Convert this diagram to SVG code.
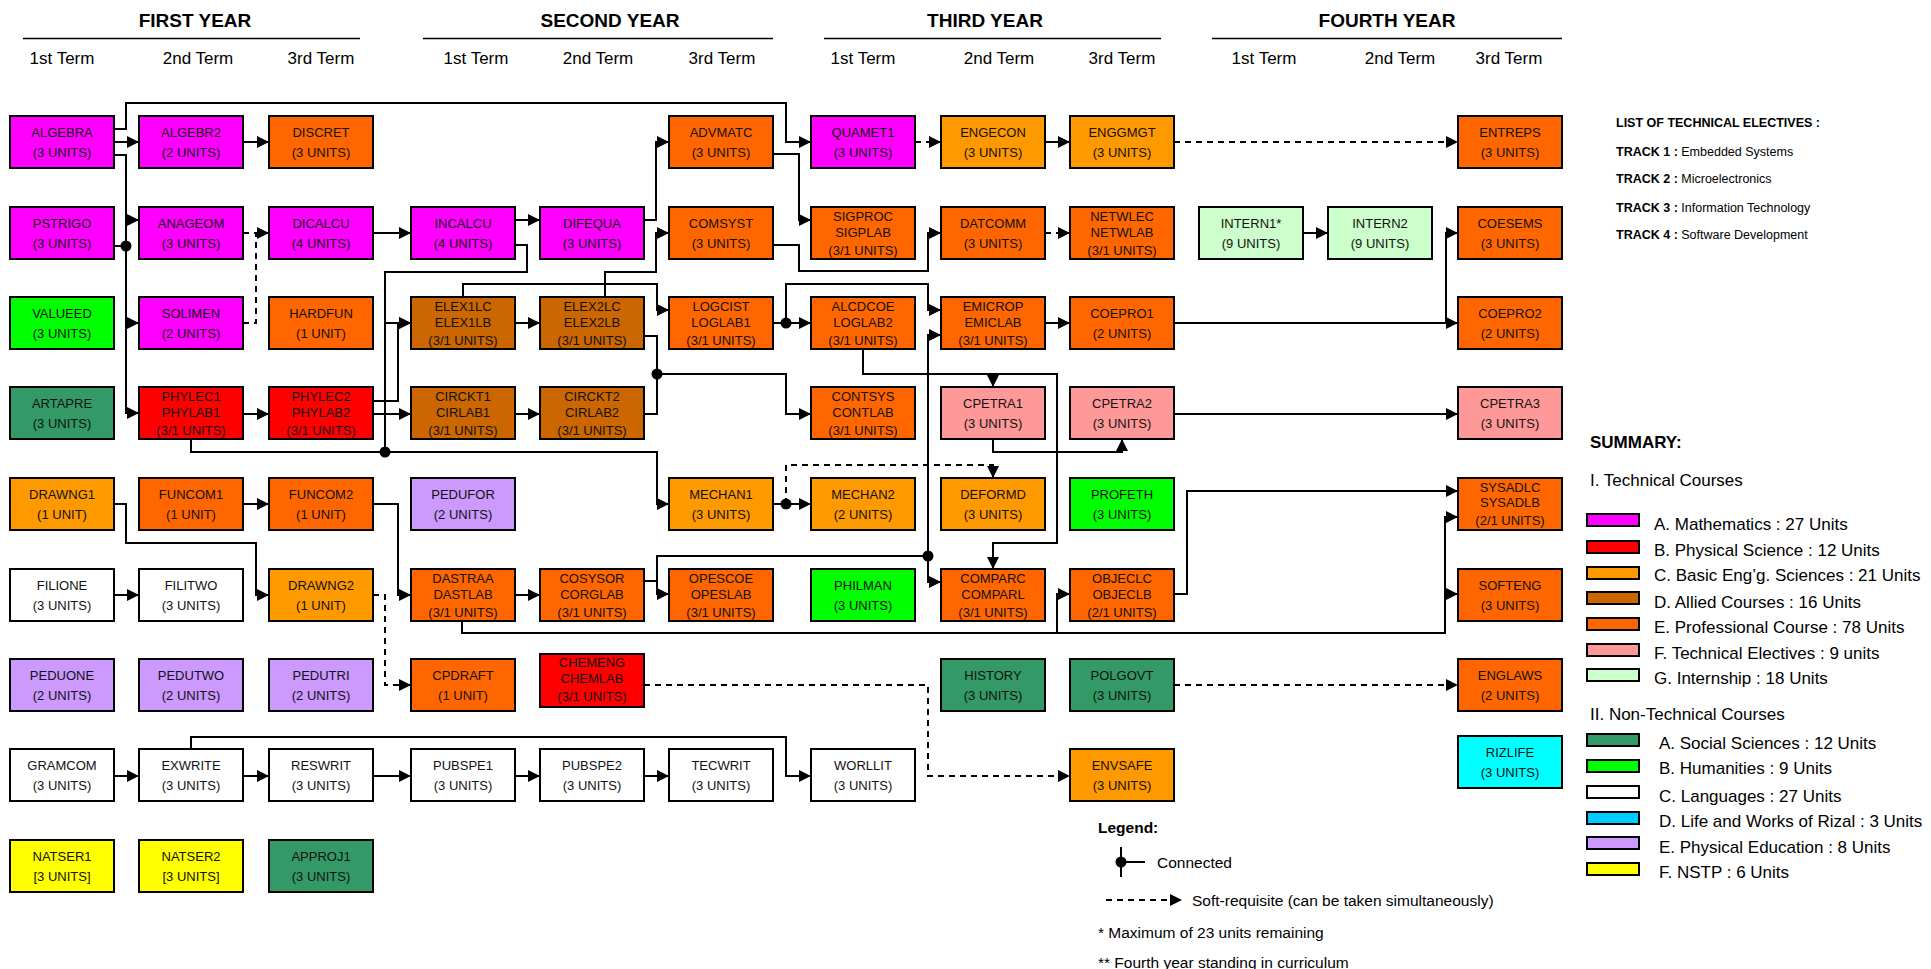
<svg xmlns="http://www.w3.org/2000/svg" width="1931" height="969" viewBox="0 0 1931 969">
<style>
.n rect{stroke:#000;stroke-width:2}
.n text,.tx{font-family:"Liberation Sans",Arial,sans-serif;font-size:13px;text-anchor:middle;fill:#111}
.hd{font-family:"Liberation Sans",Arial,sans-serif;font-size:19px;font-weight:bold;text-anchor:middle}
.tm{font-family:"Liberation Sans",Arial,sans-serif;font-size:17px;text-anchor:middle}
.c path{fill:none;stroke:#000;stroke-width:2}
.c .d{stroke-dasharray:6 5}
.c .a{marker-end:url(#ar)}
.c circle{fill:#000}
.lg{font-family:"Liberation Sans",Arial,sans-serif;font-size:17px;white-space:pre}
.lt{font-size:15.5px}
.sm{font-family:"Liberation Sans",Arial,sans-serif;font-size:12.5px}
.b{font-weight:bold}
.sw{stroke:#000;stroke-width:2}
.M{fill:#FF00FF}.PS{fill:#FF0000}.BE{fill:#FF9900}.AL{fill:#CC6600}.PR{fill:#FF6600}.TE{fill:#FF9999}.IN{fill:#CCFFCC}.SS{fill:#339966}.HU{fill:#00FF00}.LA{fill:#FFFFFF}.RZ{fill:#00FFFF}.RZL{fill:#00CCFF}.PE{fill:#CC99FF}.NS{fill:#FFFF00}
</style>
<defs>
<marker id="ar" markerUnits="userSpaceOnUse" markerWidth="12" markerHeight="12" viewBox="0 0 12 12" refX="12" refY="6" orient="auto"><path d="M0,0 L12,6 L0,12 z" fill="#000"/></marker>
</defs>
<rect width="1931" height="969" fill="#fff"/>
<g id="headers">
<text class="hd" x="195" y="27">FIRST YEAR</text>
<text class="hd" x="610" y="27">SECOND YEAR</text>
<text class="hd" x="985" y="27">THIRD YEAR</text>
<text class="hd" x="1387" y="27">FOURTH YEAR</text>
<g stroke="#000" stroke-width="1.5"><line x1="23" y1="38.5" x2="360" y2="38.5"/><line x1="423" y1="38.5" x2="773" y2="38.5"/><line x1="824" y1="38.5" x2="1161" y2="38.5"/><line x1="1212" y1="38.5" x2="1562" y2="38.5"/></g>
<text class="tm" x="62" y="64">1st Term</text><text class="tm" x="198" y="64">2nd Term</text><text class="tm" x="321" y="64">3rd Term</text>
<text class="tm" x="476" y="64">1st Term</text><text class="tm" x="598" y="64">2nd Term</text><text class="tm" x="722" y="64">3rd Term</text>
<text class="tm" x="863" y="64">1st Term</text><text class="tm" x="999" y="64">2nd Term</text><text class="tm" x="1122" y="64">3rd Term</text>
<text class="tm" x="1264" y="64">1st Term</text><text class="tm" x="1400" y="64">2nd Term</text><text class="tm" x="1509" y="64">3rd Term</text>
</g>
<g id="connectors" class="c">
<path class="a" d="M114,129 H126 V103 H786 V142 H811"/>
<path class="a" d="M114,142 H139"/>
<path class="a" d="M114,155 H126 V413 H139"/>
<path class="a" d="M126,220 H139"/>
<path class="a" d="M126,323 H139"/>
<path d="M114,246 H126"/>
<circle cx="126" cy="246" r="5.5"/>
<path class="a" d="M243,142 H269"/>
<path class="a d" d="M243,233 H269"/>
<path class="d" d="M243,323 H256 V233"/>
<path class="a" d="M373,233 H411"/>
<path class="a" d="M515,220 H540"/>
<path d="M515,245 H527 V272 H385 V452"/>
<path class="a" d="M385,323 H411"/>
<path class="a" d="M373,401 H398 V323 H411"/>
<path class="a" d="M373,414 H411"/>
<path class="a" d="M243,414 H269"/>
<path class="a" d="M191,439 V452 H657 V504 H669"/>
<circle cx="385" cy="452" r="5.5"/>
<path class="a" d="M515,323 H540"/>
<path class="a" d="M515,414 H540"/>
<path class="a" d="M644,220 H656 V142 H669"/>
<path class="a" d="M605,297 V272 H656 V233 H669"/>
<path class="a" d="M463,297 V284 H657 V310 H669"/>
<path d="M644,336 H657 V414 H644"/>
<circle cx="657" cy="374" r="5.5"/>
<path class="a" d="M657,374 H786 V414 H811"/>
<path class="a" d="M773,323 H811"/>
<circle cx="786" cy="323" r="5.5"/>
<path class="a" d="M786,323 V284 H928 V310 H941"/>
<path class="a" d="M773,154 H799 V220 H811"/>
<path class="a" d="M773,245 H799 V271 H928 V233 H941"/>
<path class="a d" d="M915,142 H941"/>
<path class="a" d="M1045,142 H1070"/>
<path class="a d" d="M1174,142 H1458"/>
<path class="a d" d="M1045,233 H1070"/>
<path class="a" d="M1303,233 H1328"/>
<path class="a" d="M1045,323 H1070"/>
<path class="a" d="M1174,323 H1458"/>
<path class="a" d="M1446,323 V233 H1458"/>
<path class="a" d="M863,349 V374 H993 V387"/>
<path class="a" d="M993,374 H1057 V543 H993 V569"/>
<path class="a" d="M993,439 V452 H1122 V439"/>
<path class="a" d="M1174,414 H1458"/>
<path class="a" d="M773,504 H811"/>
<circle cx="786" cy="504" r="5.5"/>
<path class="a d" d="M786,504 V465 H993 V478"/>
<path class="a" d="M243,504 H269"/>
<path class="a" d="M373,504 H398 V595 H411"/>
<path class="a" d="M114,504 H126 V543 H256 V595 H269"/>
<path class="a" d="M114,595 H139"/>
<path class="a d" d="M373,595 H385 V685 H411"/>
<path class="a" d="M515,595 H540"/>
<path class="a" d="M644,581 H657 V594 H669"/>
<path d="M657,581 V556 H928"/>
<circle cx="928" cy="556" r="5.5"/>
<path class="a" d="M928,556 V335 H941"/>
<path class="a" d="M928,556 V582 H941"/>
<path class="a" d="M1174,594 H1187 V491 H1458"/>
<path class="a" d="M462,621 V633 H1445 V517 H1458"/>
<path class="a" d="M1445,594 H1458"/>
<path class="a" d="M1057,633 V594 H1070"/>
<path class="a d" d="M644,685 H928 V776 H1070"/>
<path class="a d" d="M1174,685 H1458"/>
<path class="a" d="M114,776 H139"/>
<path class="a" d="M243,776 H269"/>
<path class="a" d="M373,776 H411"/>
<path class="a" d="M515,776 H540"/>
<path class="a" d="M644,776 H669"/>
<path class="a" d="M191,749 V737 H786 V776 H811"/>
</g>
<g id="ALGEBRA" class="n"><rect class="M" x="10" y="116" width="104" height="52"/><text x="62" y="137">ALGEBRA</text><text x="62" y="157">(3 UNITS)</text></g>
<g id="ALGEBR2" class="n"><rect class="M" x="139" y="116" width="104" height="52"/><text x="191" y="137">ALGEBR2</text><text x="191" y="157">(2 UNITS)</text></g>
<g id="DISCRET" class="n"><rect class="PR" x="269" y="116" width="104" height="52"/><text x="321" y="137">DISCRET</text><text x="321" y="157">(3 UNITS)</text></g>
<g id="ADVMATC" class="n"><rect class="PR" x="669" y="116" width="104" height="52"/><text x="721" y="137">ADVMATC</text><text x="721" y="157">(3 UNITS)</text></g>
<g id="QUAMET1" class="n"><rect class="M" x="811" y="116" width="104" height="52"/><text x="863" y="137">QUAMET1</text><text x="863" y="157">(3 UNITS)</text></g>
<g id="ENGECON" class="n"><rect class="BE" x="941" y="116" width="104" height="52"/><text x="993" y="137">ENGECON</text><text x="993" y="157">(3 UNITS)</text></g>
<g id="ENGGMGT" class="n"><rect class="BE" x="1070" y="116" width="104" height="52"/><text x="1122" y="137">ENGGMGT</text><text x="1122" y="157">(3 UNITS)</text></g>
<g id="ENTREPS" class="n"><rect class="PR" x="1458" y="116" width="104" height="52"/><text x="1510" y="137">ENTREPS</text><text x="1510" y="157">(3 UNITS)</text></g>
<g id="PSTRIGO" class="n"><rect class="M" x="10" y="207" width="104" height="52"/><text x="62" y="228">PSTRIGO</text><text x="62" y="248">(3 UNITS)</text></g>
<g id="ANAGEOM" class="n"><rect class="M" x="139" y="207" width="104" height="52"/><text x="191" y="228">ANAGEOM</text><text x="191" y="248">(3 UNITS)</text></g>
<g id="DICALCU" class="n"><rect class="M" x="269" y="207" width="104" height="52"/><text x="321" y="228">DICALCU</text><text x="321" y="248">(4 UNITS)</text></g>
<g id="INCALCU" class="n"><rect class="M" x="411" y="207" width="104" height="52"/><text x="463" y="228">INCALCU</text><text x="463" y="248">(4 UNITS)</text></g>
<g id="DIFEQUA" class="n"><rect class="M" x="540" y="207" width="104" height="52"/><text x="592" y="228">DIFEQUA</text><text x="592" y="248">(3 UNITS)</text></g>
<g id="COMSYST" class="n"><rect class="PR" x="669" y="207" width="104" height="52"/><text x="721" y="228">COMSYST</text><text x="721" y="248">(3 UNITS)</text></g>
<g id="SIGPROC" class="n"><rect class="PR" x="811" y="207" width="104" height="52"/><text x="863" y="221">SIGPROC</text><text x="863" y="237">SIGPLAB</text><text x="863" y="255">(3/1 UNITS)</text></g>
<g id="DATCOMM" class="n"><rect class="PR" x="941" y="207" width="104" height="52"/><text x="993" y="228">DATCOMM</text><text x="993" y="248">(3 UNITS)</text></g>
<g id="NETWLEC" class="n"><rect class="PR" x="1070" y="207" width="104" height="52"/><text x="1122" y="221">NETWLEC</text><text x="1122" y="237">NETWLAB</text><text x="1122" y="255">(3/1 UNITS)</text></g>
<g id="INTERN1" class="n"><rect class="IN" x="1199" y="207" width="104" height="52"/><text x="1251" y="228">INTERN1*</text><text x="1251" y="248">(9 UNITS)</text></g>
<g id="INTERN2" class="n"><rect class="IN" x="1328" y="207" width="104" height="52"/><text x="1380" y="228">INTERN2</text><text x="1380" y="248">(9 UNITS)</text></g>
<g id="COESEMS" class="n"><rect class="PR" x="1458" y="207" width="104" height="52"/><text x="1510" y="228">COESEMS</text><text x="1510" y="248">(3 UNITS)</text></g>
<g id="VALUEED" class="n"><rect class="HU" x="10" y="297" width="104" height="52"/><text x="62" y="318">VALUEED</text><text x="62" y="338">(3 UNITS)</text></g>
<g id="SOLIMEN" class="n"><rect class="M" x="139" y="297" width="104" height="52"/><text x="191" y="318">SOLIMEN</text><text x="191" y="338">(2 UNITS)</text></g>
<g id="HARDFUN" class="n"><rect class="PR" x="269" y="297" width="104" height="52"/><text x="321" y="318">HARDFUN</text><text x="321" y="338">(1 UNIT)</text></g>
<g id="ELEX1LC" class="n"><rect class="AL" x="411" y="297" width="104" height="52"/><text x="463" y="311">ELEX1LC</text><text x="463" y="327">ELEX1LB</text><text x="463" y="345">(3/1 UNITS)</text></g>
<g id="ELEX2LC" class="n"><rect class="AL" x="540" y="297" width="104" height="52"/><text x="592" y="311">ELEX2LC</text><text x="592" y="327">ELEX2LB</text><text x="592" y="345">(3/1 UNITS)</text></g>
<g id="LOGCIST" class="n"><rect class="PR" x="669" y="297" width="104" height="52"/><text x="721" y="311">LOGCIST</text><text x="721" y="327">LOGLAB1</text><text x="721" y="345">(3/1 UNITS)</text></g>
<g id="ALCDCOE" class="n"><rect class="PR" x="811" y="297" width="104" height="52"/><text x="863" y="311">ALCDCOE</text><text x="863" y="327">LOGLAB2</text><text x="863" y="345">(3/1 UNITS)</text></g>
<g id="EMICROP" class="n"><rect class="PR" x="941" y="297" width="104" height="52"/><text x="993" y="311">EMICROP</text><text x="993" y="327">EMICLAB</text><text x="993" y="345">(3/1 UNITS)</text></g>
<g id="COEPRO1" class="n"><rect class="PR" x="1070" y="297" width="104" height="52"/><text x="1122" y="318">COEPRO1</text><text x="1122" y="338">(2 UNITS)</text></g>
<g id="COEPRO2" class="n"><rect class="PR" x="1458" y="297" width="104" height="52"/><text x="1510" y="318">COEPRO2</text><text x="1510" y="338">(2 UNITS)</text></g>
<g id="ARTAPRE" class="n"><rect class="SS" x="10" y="387" width="104" height="52"/><text x="62" y="408">ARTAPRE</text><text x="62" y="428">(3 UNITS)</text></g>
<g id="PHYLEC1" class="n"><rect class="PS" x="139" y="387" width="104" height="52"/><text x="191" y="401">PHYLEC1</text><text x="191" y="417">PHYLAB1</text><text x="191" y="435">(3/1 UNITS)</text></g>
<g id="PHYLEC2" class="n"><rect class="PS" x="269" y="387" width="104" height="52"/><text x="321" y="401">PHYLEC2</text><text x="321" y="417">PHYLAB2</text><text x="321" y="435">(3/1 UNITS)</text></g>
<g id="CIRCKT1" class="n"><rect class="AL" x="411" y="387" width="104" height="52"/><text x="463" y="401">CIRCKT1</text><text x="463" y="417">CIRLAB1</text><text x="463" y="435">(3/1 UNITS)</text></g>
<g id="CIRCKT2" class="n"><rect class="AL" x="540" y="387" width="104" height="52"/><text x="592" y="401">CIRCKT2</text><text x="592" y="417">CIRLAB2</text><text x="592" y="435">(3/1 UNITS)</text></g>
<g id="CONTSYS" class="n"><rect class="PR" x="811" y="387" width="104" height="52"/><text x="863" y="401">CONTSYS</text><text x="863" y="417">CONTLAB</text><text x="863" y="435">(3/1 UNITS)</text></g>
<g id="CPETRA1" class="n"><rect class="TE" x="941" y="387" width="104" height="52"/><text x="993" y="408">CPETRA1</text><text x="993" y="428">(3 UNITS)</text></g>
<g id="CPETRA2" class="n"><rect class="TE" x="1070" y="387" width="104" height="52"/><text x="1122" y="408">CPETRA2</text><text x="1122" y="428">(3 UNITS)</text></g>
<g id="CPETRA3" class="n"><rect class="TE" x="1458" y="387" width="104" height="52"/><text x="1510" y="408">CPETRA3</text><text x="1510" y="428">(3 UNITS)</text></g>
<g id="DRAWNG1" class="n"><rect class="BE" x="10" y="478" width="104" height="52"/><text x="62" y="499">DRAWNG1</text><text x="62" y="519">(1 UNIT)</text></g>
<g id="FUNCOM1" class="n"><rect class="PR" x="139" y="478" width="104" height="52"/><text x="191" y="499">FUNCOM1</text><text x="191" y="519">(1 UNIT)</text></g>
<g id="FUNCOM2" class="n"><rect class="PR" x="269" y="478" width="104" height="52"/><text x="321" y="499">FUNCOM2</text><text x="321" y="519">(1 UNIT)</text></g>
<g id="PEDUFOR" class="n"><rect class="PE" x="411" y="478" width="104" height="52"/><text x="463" y="499">PEDUFOR</text><text x="463" y="519">(2 UNITS)</text></g>
<g id="MECHAN1" class="n"><rect class="BE" x="669" y="478" width="104" height="52"/><text x="721" y="499">MECHAN1</text><text x="721" y="519">(3 UNITS)</text></g>
<g id="MECHAN2" class="n"><rect class="BE" x="811" y="478" width="104" height="52"/><text x="863" y="499">MECHAN2</text><text x="863" y="519">(2 UNITS)</text></g>
<g id="DEFORMD" class="n"><rect class="BE" x="941" y="478" width="104" height="52"/><text x="993" y="499">DEFORMD</text><text x="993" y="519">(3 UNITS)</text></g>
<g id="PROFETH" class="n"><rect class="HU" x="1070" y="478" width="104" height="52"/><text x="1122" y="499">PROFETH</text><text x="1122" y="519">(3 UNITS)</text></g>
<g id="SYSADLC" class="n"><rect class="PR" x="1458" y="478" width="104" height="52"/><text x="1510" y="492">SYSADLC</text><text x="1510" y="507">SYSADLB</text><text x="1510" y="525">(2/1 UNITS)</text></g>
<g id="FILIONE" class="n"><rect class="LA" x="10" y="569" width="104" height="52"/><text x="62" y="590">FILIONE</text><text x="62" y="610">(3 UNITS)</text></g>
<g id="FILITWO" class="n"><rect class="LA" x="139" y="569" width="104" height="52"/><text x="191" y="590">FILITWO</text><text x="191" y="610">(3 UNITS)</text></g>
<g id="DRAWNG2" class="n"><rect class="BE" x="269" y="569" width="104" height="52"/><text x="321" y="590">DRAWNG2</text><text x="321" y="610">(1 UNIT)</text></g>
<g id="DASTRAA" class="n"><rect class="PR" x="411" y="569" width="104" height="52"/><text x="463" y="583">DASTRAA</text><text x="463" y="599">DASTLAB</text><text x="463" y="617">(3/1 UNITS)</text></g>
<g id="COSYSOR" class="n"><rect class="PR" x="540" y="569" width="104" height="52"/><text x="592" y="583">COSYSOR</text><text x="592" y="599">CORGLAB</text><text x="592" y="617">(3/1 UNITS)</text></g>
<g id="OPESCOE" class="n"><rect class="PR" x="669" y="569" width="104" height="52"/><text x="721" y="583">OPESCOE</text><text x="721" y="599">OPESLAB</text><text x="721" y="617">(3/1 UNITS)</text></g>
<g id="PHILMAN" class="n"><rect class="HU" x="811" y="569" width="104" height="52"/><text x="863" y="590">PHILMAN</text><text x="863" y="610">(3 UNITS)</text></g>
<g id="COMPARC" class="n"><rect class="PR" x="941" y="569" width="104" height="52"/><text x="993" y="583">COMPARC</text><text x="993" y="599">COMPARL</text><text x="993" y="617">(3/1 UNITS)</text></g>
<g id="OBJECLC" class="n"><rect class="PR" x="1070" y="569" width="104" height="52"/><text x="1122" y="583">OBJECLC</text><text x="1122" y="599">OBJECLB</text><text x="1122" y="617">(2/1 UNITS)</text></g>
<g id="SOFTENG" class="n"><rect class="PR" x="1458" y="569" width="104" height="52"/><text x="1510" y="590">SOFTENG</text><text x="1510" y="610">(3 UNITS)</text></g>
<g id="PEDUONE" class="n"><rect class="PE" x="10" y="659" width="104" height="52"/><text x="62" y="680">PEDUONE</text><text x="62" y="700">(2 UNITS)</text></g>
<g id="PEDUTWO" class="n"><rect class="PE" x="139" y="659" width="104" height="52"/><text x="191" y="680">PEDUTWO</text><text x="191" y="700">(2 UNITS)</text></g>
<g id="PEDUTRI" class="n"><rect class="PE" x="269" y="659" width="104" height="52"/><text x="321" y="680">PEDUTRI</text><text x="321" y="700">(2 UNITS)</text></g>
<g id="CPDRAFT" class="n"><rect class="PR" x="411" y="659" width="104" height="52"/><text x="463" y="680">CPDRAFT</text><text x="463" y="700">(1 UNIT)</text></g>
<g id="CHEMENG" class="n"><rect class="PS" x="540" y="654" width="104" height="53"/><text x="592" y="667">CHEMENG</text><text x="592" y="683">CHEMLAB</text><text x="592" y="701">(3/1 UNITS)</text></g>
<g id="HISTORY" class="n"><rect class="SS" x="941" y="659" width="104" height="52"/><text x="993" y="680">HISTORY</text><text x="993" y="700">(3 UNITS)</text></g>
<g id="POLGOVT" class="n"><rect class="SS" x="1070" y="659" width="104" height="52"/><text x="1122" y="680">POLGOVT</text><text x="1122" y="700">(3 UNITS)</text></g>
<g id="ENGLAWS" class="n"><rect class="PR" x="1458" y="659" width="104" height="52"/><text x="1510" y="680">ENGLAWS</text><text x="1510" y="700">(2 UNITS)</text></g>
<g id="GRAMCOM" class="n"><rect class="LA" x="10" y="749" width="104" height="52"/><text x="62" y="770">GRAMCOM</text><text x="62" y="790">(3 UNITS)</text></g>
<g id="EXWRITE" class="n"><rect class="LA" x="139" y="749" width="104" height="52"/><text x="191" y="770">EXWRITE</text><text x="191" y="790">(3 UNITS)</text></g>
<g id="RESWRIT" class="n"><rect class="LA" x="269" y="749" width="104" height="52"/><text x="321" y="770">RESWRIT</text><text x="321" y="790">(3 UNITS)</text></g>
<g id="PUBSPE1" class="n"><rect class="LA" x="411" y="749" width="104" height="52"/><text x="463" y="770">PUBSPE1</text><text x="463" y="790">(3 UNITS)</text></g>
<g id="PUBSPE2" class="n"><rect class="LA" x="540" y="749" width="104" height="52"/><text x="592" y="770">PUBSPE2</text><text x="592" y="790">(3 UNITS)</text></g>
<g id="TECWRIT" class="n"><rect class="LA" x="669" y="749" width="104" height="52"/><text x="721" y="770">TECWRIT</text><text x="721" y="790">(3 UNITS)</text></g>
<g id="WORLLIT" class="n"><rect class="LA" x="811" y="749" width="104" height="52"/><text x="863" y="770">WORLLIT</text><text x="863" y="790">(3 UNITS)</text></g>
<g id="ENVSAFE" class="n"><rect class="BE" x="1070" y="749" width="104" height="52"/><text x="1122" y="770">ENVSAFE</text><text x="1122" y="790">(3 UNITS)</text></g>
<g id="RIZLIFE" class="n"><rect class="RZ" x="1458" y="736" width="104" height="52"/><text x="1510" y="757">RIZLIFE</text><text x="1510" y="777">(3 UNITS)</text></g>
<g id="NATSER1" class="n"><rect class="NS" x="10" y="840" width="104" height="52"/><text x="62" y="861">NATSER1</text><text x="62" y="881">[3 UNITS]</text></g>
<g id="NATSER2" class="n"><rect class="NS" x="139" y="840" width="104" height="52"/><text x="191" y="861">NATSER2</text><text x="191" y="881">[3 UNITS]</text></g>
<g id="APPROJ1" class="n"><rect class="SS" x="269" y="840" width="104" height="52"/><text x="321" y="861">APPROJ1</text><text x="321" y="881">(3 UNITS)</text></g>
<g id="electives" class="sm">
<text class="b" x="1616" y="127">LIST OF TECHNICAL ELECTIVES :</text>
<text x="1616" y="156"><tspan class="b">TRACK 1 :</tspan> Embedded Systems</text>
<text x="1616" y="183"><tspan class="b">TRACK 2 :</tspan> Microelectronics</text>
<text x="1616" y="212"><tspan class="b">TRACK 3 :</tspan> Information Technology</text>
<text x="1616" y="239"><tspan class="b">TRACK 4 :</tspan> Software Development</text>
</g>
<g id="summary" class="lg">
<text class="b" x="1590" y="448">SUMMARY:</text>
<text x="1590" y="486">I. Technical Courses</text>
<rect class="sw M" x="1587" y="514" width="52" height="12"/><text x="1654" y="530">A. Mathematics : 27 Units</text>
<rect class="sw PS" x="1587" y="541" width="52" height="12"/><text x="1654" y="556">B. Physical Science : 12 Units</text>
<rect class="sw BE" x="1587" y="567" width="52" height="12"/><text x="1654" y="581">C. Basic Eng’g. Sciences : 21  Units</text>
<rect class="sw AL" x="1587" y="592" width="52" height="12"/><text x="1654" y="608">D. Allied Courses : 16 Units</text>
<rect class="sw PR" x="1587" y="618" width="52" height="12"/><text x="1654" y="633">E. Professional Course : 78 Units</text>
<rect class="sw TE" x="1587" y="644" width="52" height="12"/><text x="1654" y="659">F. Technical Electives  : 9 units</text>
<rect class="sw IN" x="1587" y="669" width="52" height="12"/><text x="1654" y="684">G. Internship : 18 Units</text>
<text x="1590" y="720">II. Non-Technical Courses</text>
<rect class="sw SS" x="1587" y="734" width="52" height="12"/><text x="1659" y="749">A. Social Sciences : 12 Units</text>
<rect class="sw HU" x="1587" y="760" width="52" height="12"/><text x="1659" y="774">B. Humanities : 9 Units</text>
<rect class="sw LA" x="1587" y="786" width="52" height="12"/><text x="1659" y="802">C. Languages : 27 Units</text>
<rect class="sw RZL" x="1587" y="812" width="52" height="12"/><text x="1659" y="827">D. Life and Works of Rizal : 3 Units</text>
<rect class="sw PE" x="1587" y="837" width="52" height="12"/><text x="1659" y="853">E. Physical Education : 8 Units</text>
<rect class="sw NS" x="1587" y="863" width="52" height="12"/><text x="1659" y="878">F. NSTP : 6 Units</text>
</g>
<g id="legend" class="lg">
<text class="b lt" x="1098" y="833">Legend:</text>
<path d="M1121,847 V877 M1121,862 H1145" stroke="#000" stroke-width="2" fill="none"/>
<circle cx="1121" cy="862" r="5.5" fill="#000"/>
<text class="lt" x="1157" y="868">Connected</text>
<path d="M1106,900 H1182" stroke="#000" stroke-width="2" stroke-dasharray="6 5" fill="none" marker-end="url(#ar)"/>
<text class="lt" x="1192" y="906">Soft-requisite (can be taken simultaneously)</text>
<text class="lt" x="1098" y="938">* Maximum of 23 units remaining</text>
<text class="lt" x="1098" y="968">** Fourth year standing in curriculum</text>
</g>
</svg>
